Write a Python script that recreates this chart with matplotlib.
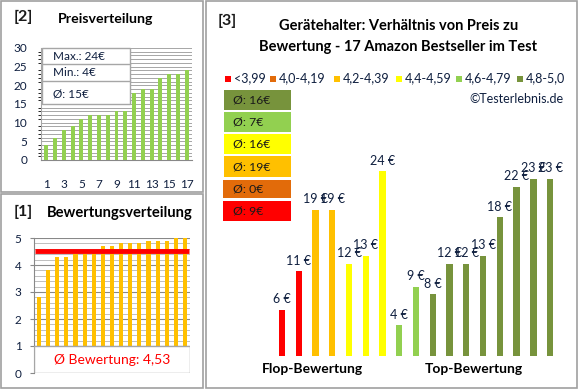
import matplotlib
matplotlib.use("Agg")
import matplotlib.pyplot as plt
from matplotlib.patches import Rectangle
import numpy as np

plt.rcParams['font.family'] = ['Lato', 'DejaVu Sans']

# ---------------- data ----------------
price_idx = list(range(1, 18))
prices_sorted = [4, 6, 8, 9, 11, 12, 12, 12, 13, 13, 18, 19, 19, 22, 23, 23, 24]
price_ticks = [1, 3, 5, 7, 9, 11, 13, 15, 17]
price_stats = ["Max.: 24€", "Min.: 4€", "Ø: 15€"]

ratings_sorted = [2.8, 3.8, 4.3, 4.3, 4.4, 4.4, 4.5, 4.7, 4.7, 4.8, 4.8, 4.8, 4.9, 4.9, 4.9, 5.0, 5.0]
rating_avg = 4.53
rating_label = "Ø Bewertung: 4,53"

bar_prices = [6, 11, 19, 19, 12, 13, 24, 4, 9, 8, 12, 12, 13, 18, 22, 23, 23]
bar_groups = [0, 0, 2, 2, 3, 3, 3, 4, 4, 5, 5, 5, 5, 5, 5, 5, 5]
group_labels = ["<3,99", "4,0-4,19", "4,2-4,39", "4,4-4,59", "4,6-4,79", "4,8-5,0"]
group_colors = ["#FF0000", "#E26B0A", "#FFC000", "#FFFF00", "#92D050", "#77933C"]
group_avgs = ["Ø: 9€", "Ø: 0€", "Ø: 19€", "Ø: 16€", "Ø: 7€", "Ø: 16€"]

W, H = 580, 390
fig = plt.figure(figsize=(W / 100, H / 100), dpi=100)

def fx(x):
    return x / W

def fy(y):
    return 1 - y / H

def ax_rect(x0, y0, x1, y1):
    # pixel coords (top-left origin) -> figure axes rect
    return [fx(x0), fy(y1), (x1 - x0) / W, (y1 - y0) / H]

# panel borders
border = "#A0A0A0"
for (x0, y0, x1, y1) in [(1, 1, 203, 192), (1, 194, 203, 388), (206, 1, 577, 388)]:
    fig.add_artist(Rectangle((fx(x0), fy(y1)), (x1 - x0) / W, (y1 - y0) / H,
                             transform=fig.transFigure, fill=False, ec=border, lw=1.2))

# ---------------- panel [2] ----------------
ax2 = fig.add_axes(ax_rect(41, 48, 192, 160))
ax2.bar(price_idx, prices_sorted, width=0.45, color="#92D050", zorder=3)
ax2.set_xlim(0.4, 17.6)
ax2.set_ylim(0, 30)
ax2.set_yticks(range(0, 31, 5))
ax2.set_yticks(range(0, 31, 1), minor=True)
ax2.grid(axis='y', which='both', color="#A6A6A6", lw=0.7, zorder=0)
ax2.set_xticks(price_ticks)
ax2.set_xticklabels([str(t) for t in price_ticks])
ax2.tick_params(axis='both', length=0, labelsize=8.5, colors="#000000")
ax2.tick_params(axis='x', pad=14)
ax2.tick_params(axis='y', pad=10)
for s in ['top', 'right']:
    ax2.spines[s].set_visible(False)
ax2.spines['left'].set_color("#A6A6A6")
ax2.spines['bottom'].set_color("#888888")
for lab in ax2.get_yticklabels():
    lab.set_color("#0F1F3F")
for lab in ax2.get_xticklabels():
    lab.set_color("#0F1F3F")

# stats box
rows_y = [48, 64, 81, 104]
fig.add_artist(Rectangle((fx(42), fy(104)), 88 / W, 56 / H, transform=fig.transFigure,
                         fc="white", ec="#A6A6A6", lw=1, zorder=5))
for yy in rows_y[1:3]:
    fig.add_artist(plt.Line2D([fx(42), fx(130)], [fy(yy), fy(yy)], transform=fig.transFigure,
                              color="#A6A6A6", lw=1, zorder=6))
for i, t in enumerate(price_stats):
    fig.text(fx(53), fy((rows_y[i] + rows_y[i + 1]) / 2 + (2 if i == 2 else 0)), t,
             fontsize=8.5, va='center', ha='left', color="#0F1F3F", zorder=7)

fig.text(fx(14), fy(17), "[2]", fontsize=11.5, fontweight='bold', va='center', color="#1a1a1a")
fig.text(fx(58), fy(19), "Preisverteilung", fontsize=10.2, fontweight='bold', va='center', color="#000000")

# ---------------- panel [1] ----------------
ax1 = fig.add_axes(ax_rect(34, 238, 190, 373))
ax1.bar(price_idx, ratings_sorted, width=0.45, color="#FFC000", zorder=3)
ax1.set_xlim(0.45, 17.55)
ax1.set_ylim(0, 5)
ax1.set_yticks(range(0, 6))
ax1.set_yticks(np.arange(0, 5.01, 0.2), minor=True)
ax1.grid(axis='y', which='major', color="#888888", lw=0.8, zorder=0)
ax1.grid(axis='y', which='minor', color="#BFBFBF", lw=0.7, zorder=0)
ax1.set_xticks([])
ax1.tick_params(axis='y', which='major', length=3, color="#888888", labelsize=8.5, pad=6)
ax1.tick_params(axis='y', which='minor', length=0)
for lab in ax1.get_yticklabels():
    lab.set_color("#0F1F3F")
for s in ['top', 'right', 'bottom']:
    ax1.spines[s].set_visible(False)
ax1.spines['left'].set_color("#888888")
ax1.plot([0.6, 17.4], [rating_avg, rating_avg], color="#FF0000", lw=3.5, zorder=4, solid_capstyle='butt')
ax1.add_patch(Rectangle((0.45, 0), 17.1, 1, fc="white", ec="#A6A6A6", lw=1, zorder=5))
ax1.text(9, 0.5, rating_label, fontsize=10, color="#FF0000", ha='center', va='center', zorder=6)

fig.text(fx(14), fy(212), "[1]", fontsize=11.5, fontweight='bold', va='center', color="#1a1a1a")
fig.text(fx(47), fy(213), "Bewertungsverteilung", fontsize=10.6, fontweight='bold', va='center', color="#000000")

# ---------------- panel [3] ----------------
ax3 = fig.add_axes(ax_rect(270.3, 125, 561.8, 356))
xs = np.arange(len(bar_prices))
cols = [group_colors[g] for g in bar_groups]
ax3.bar(xs, bar_prices, width=0.38, color=cols)
ax3.set_xlim(-0.7, 16.7)
ax3.set_ylim(0, 30)
ax3.axis('off')
for x, v in zip(xs, bar_prices):
    ax3.text(x, v + 0.6, f"{v} €", ha='center', va='bottom', fontsize=9, color="#0F1F3F")

fig.text(fx(312), fy(369), "Flop-Bewertung", fontsize=10, fontweight='bold', ha='center', va='center')
fig.text(fx(474), fy(369), "Top-Bewertung", fontsize=10, fontweight='bold', ha='center', va='center')

fig.text(fx(218), fy(21), "[3]", fontsize=11.5, fontweight='bold', va='center', color="#1a1a1a")
fig.text(fx(399), fy(26), "Gerätehalter: Verhältnis von Preis zu", fontsize=10.5,
         fontweight='bold', ha='center', va='center')
fig.text(fx(398), fy(47), "Bewertung - 17 Amazon Bestseller im Test", fontsize=10.5,
         fontweight='bold', ha='center', va='center')

# legend row
leg_sq_x = [225, 270, 334, 396, 456, 517]
for i, (lab, c) in enumerate(zip(group_labels, group_colors)):
    x0 = leg_sq_x[i]
    fig.add_artist(Rectangle((fx(x0), fy(82)), 6 / W, 6 / H, transform=fig.transFigure,
                             fc=c, ec='none'))
    fig.text(fx(x0 + 9), fy(78.5), lab, fontsize=9, va='center', ha='left', color="#0F1F3F")

fig.text(fx(563), fy(99), "©Testerlebnis.de", fontsize=9, ha='right', va='center', color="#0F1F3F")

# average boxes (top to bottom: best group first)
box_y = [(90, 110), (112, 132), (134, 154), (156, 177), (180, 198), (201, 221)]
for k, (y0, y1) in enumerate(box_y):
    g = 5 - k
    x0 = 224 if g >= 2 else 223
    fig.add_artist(Rectangle((fx(x0), fy(y1)), (291 - x0) / W, (y1 - y0) / H,
                             transform=fig.transFigure, fc=group_colors[g], ec='none'))
    fig.text(fx(233), fy((y0 + y1) / 2), group_avgs[g], fontsize=8.8, va='center', ha='left',
             color="#1a1a1a")

fig.savefig("out.png", dpi=100)
